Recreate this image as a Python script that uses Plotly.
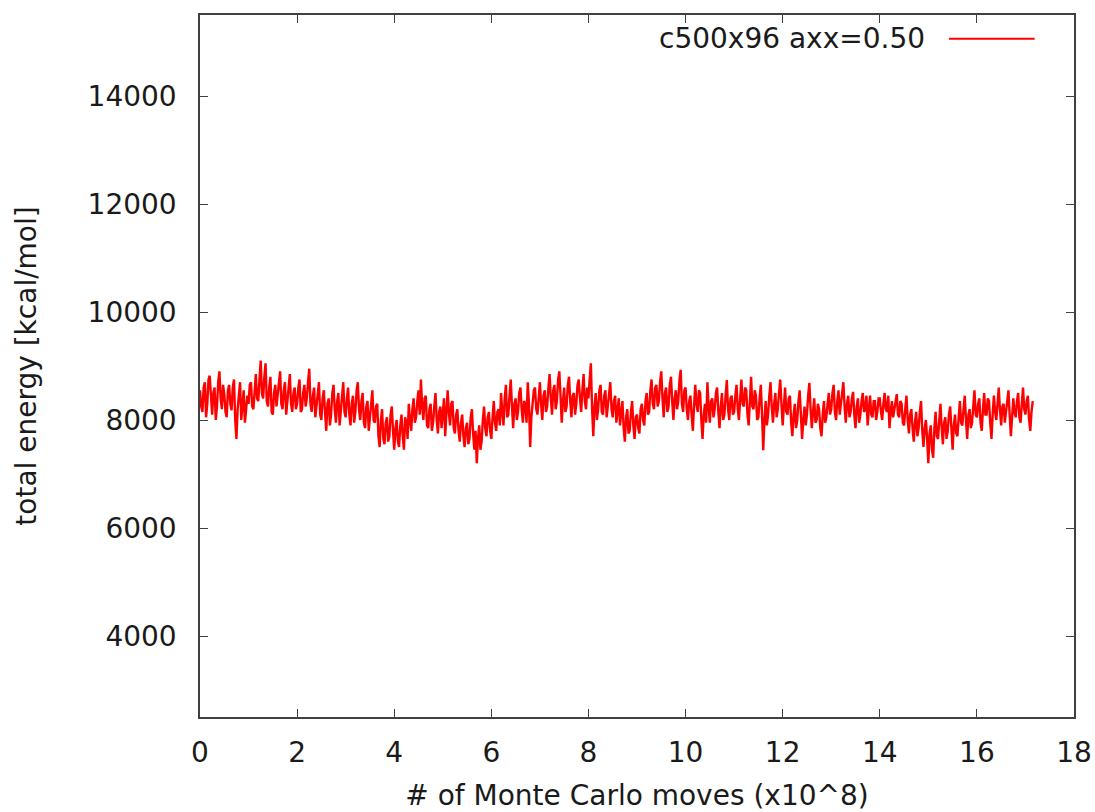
import plotly.graph_objects as go

series_name = "c500x96 axx=0.50"
x_step = 0.025  # x10^8 moves between samples
energy = [
    8550, 8250, 8150, 8600, 8700, 8050, 8300, 8750, 8820, 8350, 8100, 8500, 8600, 8000, 8250, 8700, 8900, 8400, 8200, 8650,
    8480, 8150, 8050, 8550, 8650, 8300, 8180, 8600, 8750, 8000, 7650, 8200, 8400, 8700, 8000, 8350, 8550, 7950, 8150, 8450,
    8300, 8650, 8700, 8250, 8200, 8550, 8850, 8400, 8350, 8750, 9100, 8500, 8400, 8800, 9050, 8350, 8250, 8600, 8800, 8150,
    8100, 8500, 8650, 8250, 8450, 8750, 8900, 8300, 8200, 8550, 8700, 8100, 8350, 8650, 8850, 8300, 8150, 8500, 8600, 8200,
    8300, 8600, 8750, 8150, 8200, 8500, 8650, 8250, 8400, 8700, 8950, 8300, 8150, 8450, 8600, 8050, 8300, 8550, 8700, 8100,
    8000, 8400, 8550, 8150, 7800, 8300, 8400, 7900, 8100, 8500, 8650, 8200, 7950, 8350, 8500, 7900, 8200, 8550, 8700, 8150,
    8050, 8400, 8600, 8100, 7900, 8300, 8450, 7950, 8150, 8550, 8700, 8200, 8000, 8350, 8500, 7950, 7850, 8250, 8350, 7800,
    8100, 8400, 8550, 8000, 7950, 8250, 8300, 7700, 7500, 8000, 8200, 7650, 7550, 7950, 8050, 7600, 7700, 8100, 8250, 7800,
    7450, 7850, 8000, 7600, 7500, 7900, 8100, 7700, 7450, 8050, 7950, 7650, 8300, 8000, 7800, 8200, 8400, 7950, 8050, 8350,
    8550, 8100, 8750, 8250, 8000, 8400, 8450, 7900, 7850, 8200, 8300, 7800, 7950, 8250, 8500, 8000, 7750, 8150, 8250, 7850,
    8100, 8400, 7700, 8050, 8550, 8150, 7900, 8300, 8350, 7850, 7750, 8100, 8200, 7800, 7600, 7950, 8100, 7700, 7500, 7850,
    7950, 7550, 7650, 8050, 8200, 7750, 7450, 7800, 7200, 7650, 7900, 7450, 7600, 8000, 8250, 7850, 7700, 8050, 8150, 7800,
    7650, 8050, 8350, 7950, 7800, 8150, 8200, 7900, 8500, 8150, 7900, 8400, 8650, 8050, 8100, 8450, 8750, 8250, 7850, 8300,
    8400, 8000, 8150, 8500, 8600, 8200, 7950, 8350, 8300, 7950, 8700, 8300, 7500, 8050, 8250, 8550, 8600, 8200, 8100, 8500,
    8700, 8300, 8000, 8450, 8550, 8150, 8250, 8600, 8850, 8400, 8100, 8550, 8650, 8200, 8350, 8750, 8900, 8450, 7950, 8350,
    8600, 8150, 8250, 8650, 8800, 8350, 8050, 8450, 8500, 8100, 8300, 8650, 8750, 8400, 8150, 8550, 8850, 8350, 8200, 8600,
    8400, 8750, 9050, 8200, 7700, 8250, 8500, 8000, 8200, 8550, 8650, 8150, 8100, 8450, 8550, 8050, 8300, 8600, 8700, 8200,
    8050, 8350, 8450, 7950, 8200, 8400, 7900, 8150, 8350, 7850, 7600, 8050, 8200, 7750, 7800, 8150, 8350, 7900, 7650, 8050,
    8100, 7850, 7750, 8200, 8300, 8000, 7900, 8350, 8500, 8100, 8150, 8550, 8750, 8300, 8200, 8600, 8650, 8250, 8350, 8700,
    8900, 8400, 8050, 8500, 8600, 8150, 8250, 8650, 8800, 8350, 8000, 8400, 8550, 8200, 8350, 8750, 8930, 8300, 8150, 8550,
    8600, 8200, 8000, 8350, 8450, 8100, 7800, 8250, 8650, 8300, 8150, 8550, 8500, 8000, 7650, 8100, 8300, 7950, 8700, 8250,
    7950, 8350, 8400, 8050, 8200, 8500, 8600, 8150, 7850, 8250, 8500, 8000, 8100, 8450, 8740, 8200, 8000, 8400, 8450, 8100,
    8150, 8450, 8650, 8200, 8000, 8400, 8750, 8300, 8250, 8600, 8550, 8100, 7900, 8350, 8800, 8250, 8200, 8550, 8450, 8000,
    8050, 8400, 8650, 8100, 7440, 8000, 8350, 7900, 8100, 8450, 8700, 8250, 7950, 8300, 8500, 8050, 8200, 8500, 8750, 8300,
    7900, 8250, 8600, 8150, 8100, 8400, 8450, 7950, 7700, 8100, 8300, 7850, 8000, 8350, 8550, 8100, 7650, 8000, 8250, 7900,
    8100, 8450, 8690, 8200, 7850, 8150, 8400, 7950, 8000, 8300, 8200, 7850, 7700, 8100, 8350, 7950, 8050, 8300, 8500, 8100,
    8200, 8500, 8650, 8150, 8000, 8350, 8550, 8100, 8300, 8600, 8700, 8250, 7950, 8300, 8450, 8050, 8150, 8400, 8520, 8100,
    7850, 8250, 8400, 7950, 8100, 8350, 8500, 8150, 8200, 8450, 7900, 8200, 8450, 8100, 8050, 8350, 8350, 8000, 8150, 8400,
    8400, 8150, 8000, 8300, 8500, 8200, 8150, 8450, 7850, 8150, 8350, 8050, 8200, 8400, 8480, 8100, 8050, 8350, 8300, 7950,
    7900, 8200, 8450, 8000, 7750, 8100, 8200, 7850, 7600, 7950, 8150, 7700, 7850, 8150, 8350, 7800, 7500, 7850, 8000, 7650,
    7200, 7750, 7900, 7450, 7300, 7850, 8150, 7700, 7650, 8000, 8300, 7850, 7550, 7950, 8050, 7650, 7800, 8100, 8250, 7850,
    7450, 7900, 8100, 7750, 7700, 8050, 8350, 7950, 7900, 8200, 8450, 8000, 7650, 8100, 8200, 7850, 7950, 8250, 8550, 8100,
    8050, 8300, 8400, 7950, 7800, 8200, 8500, 8100, 8100, 8400, 8350, 7950, 7650, 8100, 8450, 8150, 8000, 8300, 8600, 8200,
    7900, 8250, 8300, 7950, 8150, 8400, 8550, 8100, 7700, 8050, 8400, 8150, 8050, 8350, 8500, 8050, 7950, 8300, 8600, 8200,
    8100, 8350, 8450, 8000, 7800, 8150, 8350,
]
moves = [i * x_step for i in range(len(energy))]

x_range = [0, 18]
y_range = [2500, 15500]
x_ticks = [0, 2, 4, 6, 8, 10, 12, 14, 16, 18]
y_ticks = [4000, 6000, 8000, 10000, 12000, 14000]

FONT = "DejaVu Sans"
FS = 28
TXT = "#1a1a1a"
AX = "#404040"

fig = go.Figure()
fig.add_trace(go.Scatter(
    x=moves, y=energy, mode="lines", name=series_name,
    line=dict(color="#ff0000", width=2.4), showlegend=False,
))

axis_common = dict(
    showline=True, linecolor=AX, linewidth=1.5, mirror="allticks",
    ticks="inside", ticklen=8, tickwidth=1.2, tickcolor=AX,
    showgrid=False, zeroline=False, automargin=False,
    tickfont=dict(family=FONT, size=FS, color=TXT),
)

fig.update_layout(
    width=1095, height=812,
    margin=dict(l=200, r=21, t=15, b=95),
    paper_bgcolor="white", plot_bgcolor="white",
    font=dict(family=FONT, size=FS, color=TXT),
    xaxis=dict(range=x_range, tickvals=x_ticks, ticktext=[str(v) for v in x_ticks],
               ticklabelstandoff=10,
               title=dict(text="# of Monte Carlo moves (x10^8)", standoff=24,
                          font=dict(family=FONT, size=FS, color=TXT)),
               **axis_common),
    yaxis=dict(range=y_range, tickvals=y_ticks, ticktext=[str(v) for v in y_ticks],
               ticklabelstandoff=16,
               title=dict(text="total energy [kcal/mol]", standoff=43,
                          font=dict(family=FONT, size=FS, color=TXT)),
               **axis_common),
)

# gnuplot-style key: text followed by line sample
fig.add_annotation(xref="paper", yref="paper", x=0.832, y=0.966, xanchor="right", yanchor="middle",
                   text=series_name, showarrow=False, font=dict(family=FONT, size=FS, color=TXT))
fig.add_shape(type="line", xref="paper", yref="paper", x0=0.857, x1=0.955, y0=0.966, y1=0.966,
              line=dict(color="#ff0000", width=2))

fig.write_html("out.html")
